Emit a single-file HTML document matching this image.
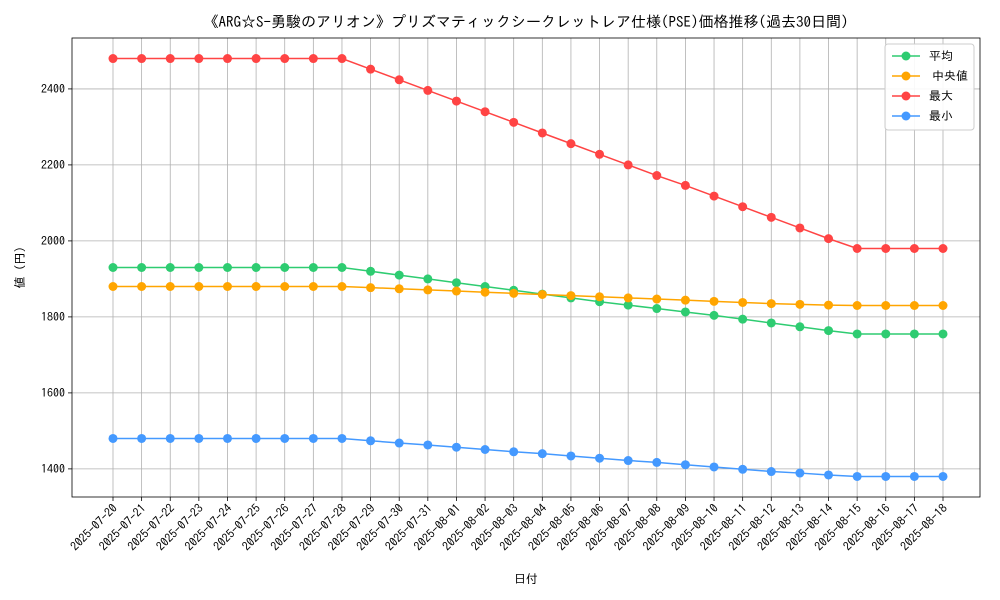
<!DOCTYPE html>
<html><head><meta charset="utf-8"><style>
body{margin:0;background:#fff;}
svg{display:block;font-family:"IPAGothic","Noto Sans CJK JP",monospace;}
</style></head><body>
<svg id="chart" width="1000" height="600"></svg>
<script>
const dates=["2025-07-20","2025-07-21","2025-07-22","2025-07-23","2025-07-24","2025-07-25","2025-07-26","2025-07-27","2025-07-28","2025-07-29","2025-07-30","2025-07-31","2025-08-01","2025-08-02","2025-08-03","2025-08-04","2025-08-05","2025-08-06","2025-08-07","2025-08-08","2025-08-09","2025-08-10","2025-08-11","2025-08-12","2025-08-13","2025-08-14","2025-08-15","2025-08-16","2025-08-17","2025-08-18"];
const avgVals=[1930,1930,1930,1930,1930,1930,1930,1930,1930,1920,1910,1900,1890,1880,1870,1860,1850,1840,1831,1822,1813,1804,1794,1784,1774,1764,1755,1755,1755,1755];
const medVals=[1880,1880,1880,1880,1880,1880,1880,1880,1880,1877,1874,1871,1868,1865,1862,1859,1856,1853,1850,1847,1844,1841,1838,1835,1833,1831,1830,1830,1830,1830];
const maxVals=[2480,2480,2480,2480,2480,2480,2480,2480,2480,2452,2424,2396,2368,2340,2312,2284,2256,2228,2200,2172,2146,2118,2090,2062,2034,2006,1980,1980,1980,1980];
const minVals=[1480,1480,1480,1480,1480,1480,1480,1480,1480,1474,1468,1463,1457,1451,1445,1440,1434,1428,1422,1417,1411,1405,1399,1393,1389,1384,1380,1380,1380,1380];
const yTicks=[1400,1600,1800,2000,2200,2400];
const seriesNames=["平均","中央値","最大","最小"];
const seriesColors=["#2ecc71","#ffa500","#ff4444","#4499ff"];

const NS="http://www.w3.org/2000/svg";
const svg=document.getElementById("chart");
const L=72,R=980,T=38,B=497;
const yMin=1326,yMax=2534;
function xs(i){return 113+i*(943-113)/(dates.length-1);}
function ys(v){return B-(v-yMin)/(yMax-yMin)*(B-T);}
function mk(tag,attrs,parent){const e=document.createElementNS(NS,tag);for(const k in attrs)e.setAttribute(k,attrs[k]);(parent||svg).appendChild(e);return e;}

const title=mk("text",{x:(L+R)/2,y:27,"text-anchor":"middle","font-size":"15"});


title.textContent="《ARG☆S-勇駿のアリオン》プリズマティックシークレットレア仕様(PSE)価格推移(過去30日間)";

const grid=mk("g",{});


dates.forEach((d,i)=>{
  const x=xs(i);
  mk("line",{x1:x,x2:x,y1:T,y2:B,stroke:"#b0b0b0","stroke-width":"0.8"},grid);
  mk("line",{x1:x,x2:x,y1:B,y2:B+4,stroke:"#000","stroke-width":"0.8"});
  const t=mk("text",{x:0,y:0,"font-size":"12","text-anchor":"end",transform:`translate(${x+5},${B+12}) rotate(-45)`});
  
  
  t.textContent=d;
});
yTicks.forEach(v=>{
  const y=ys(v);
  mk("line",{x1:L,x2:R,y1:y,y2:y,stroke:"#b0b0b0","stroke-width":"0.8"},grid);
  mk("line",{x1:L-4,x2:L,y1:y,y2:y,stroke:"#000","stroke-width":"0.8"});
  const t=mk("text",{x:L-7,y:y+4,"font-size":"12","text-anchor":"end"});
  
  
  t.textContent=v;
});
const frame=mk("rect",{x:L,y:T,width:R-L,height:B-T,fill:"none",stroke:"#000","stroke-width":"0.8"});



[avgVals,medVals,maxVals,minVals].forEach((vals,si)=>{
  const g=mk("g",{});
  
  
  mk("polyline",{points:vals.map((v,i)=>xs(i)+","+ys(v)).join(" "),fill:"none",stroke:seriesColors[si],"stroke-width":"1.5"},g);
  vals.forEach((v,i)=>{
    const c=mk("circle",{cx:xs(i),cy:ys(v),r:4.5,fill:seriesColors[si]},g);
    
    
  });
});

const xl=mk("text",{x:(L+R)/2,y:583,"text-anchor":"middle","font-size":"12"});


xl.textContent="日付";
const yl=mk("text",{x:0,y:0,"text-anchor":"middle","font-size":"12",transform:`translate(24,${(T+B)/2}) rotate(-90)`});


yl.textContent="値 (円)";

const lg=mk("g",{});


mk("rect",{x:885,y:44,width:89,height:86,rx:3,fill:"#fff",stroke:"#ccc","fill-opacity":"0.9"},lg);
seriesNames.forEach((n,i)=>{
  const y=56+i*20;
  const e=mk("g",{},lg);
  
  
  mk("line",{x1:892,x2:920,y1:y,y2:y,stroke:seriesColors[i],"stroke-width":"1.5"},e);
  mk("circle",{cx:906,cy:y,r:4.5,fill:seriesColors[i]},e);
  const t=mk("text",{x:i==1?932:929,y:y+4,"font-size":"12"},e);
  t.textContent=n;
});
</script>
</body></html>
